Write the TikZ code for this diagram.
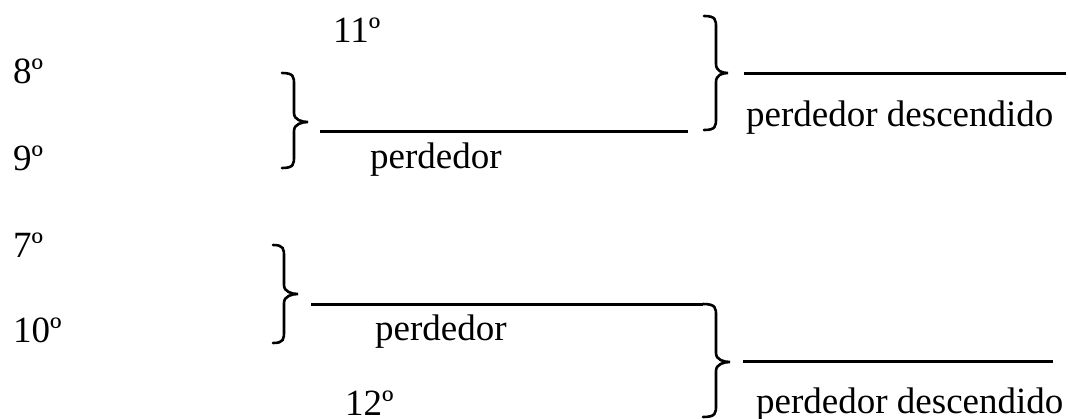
\documentclass[tikz,border=0pt]{standalone}
\usepackage{fontspec}
\setmainfont{Liberation Serif}
\begin{document}
\begin{tikzpicture}[x=1pt,y=-1pt,
  lbl/.style={inner sep=0pt,anchor=base west,font=\fontsize{37}{41}\selectfont},
  rule/.style={line width=3pt},
  brc/.style={line width=2.6pt,line cap=round}]
\useasboundingbox (0,0) rectangle (1068,418);
% brace: #1 left end x, #2 vertical x, #3 tip x, #4 top y, #5 tip y, #6 bottom y
\newcommand\mybrace[6]{%
  \draw[brc] ({#1},{#4}) .. controls ({#2},{#4}) and ({#2},{#4+4}) .. ({#2},{#4+12})
    -- ({#2},{#5-9}) .. controls ({#2},{#5-2}) and ({#3-6},{#5}) .. ({#3},{#5})
    .. controls ({#3-6},{#5}) and ({#2},{#5+2}) .. ({#2},{#5+9})
    -- ({#2},{#6-12}) .. controls ({#2},{#6-4}) and ({#2},{#6}) .. ({#1},{#6});}
% labels
\node[lbl] (n8) at (13,83) {8º};
\node[lbl] (n9) at (13,170) {9º};
\node[lbl] (n7) at (13,257) {7º};
\node[lbl] (n10) at (13,342) {10º};
\node[lbl] (n11) at (333,42) {11º};
\node[lbl] (n12) at (345,415) {12º};
\node[lbl] (p1) at (370,168) {perdedor};
\node[lbl] (p2) at (375,340) {perdedor};
\node[lbl] (pd1) at (746,126) {perdedor descendido};
\node[lbl] (pd2) at (756,413) {perdedor descendido};
% braces
\mybrace{282}{294}{308}{73}{122}{168}
\mybrace{273}{284}{298}{245}{294}{343}
\mybrace{704}{716}{728}{16}{73}{130}
% lines
\coordinate (a1) at (320,131);
\coordinate (b1) at (688,131);
\draw[rule] (a1) -- (b1);
\coordinate (a2) at (744,73);
\coordinate (b2) at (1066,73);
\draw[rule] (a2) -- (b2);
\coordinate (a3) at (311,304);
\coordinate (b3) at (703,304);
\draw[rule] (a3) -- (b3);
\draw[brc] (b3) .. controls (716,304) and (716,308) .. (716,316)
    -- (716,353) .. controls (716,360) and (724,362) .. (730,362)
    .. controls (724,362) and (716,364) .. (716,371)
    -- (716,405) .. controls (716,413) and (716,417) .. (703,417);
\coordinate (a4) at (743,361);
\coordinate (b4) at (1053,361);
\draw[rule] (a4) -- (b4);
\end{tikzpicture}
\end{document}
